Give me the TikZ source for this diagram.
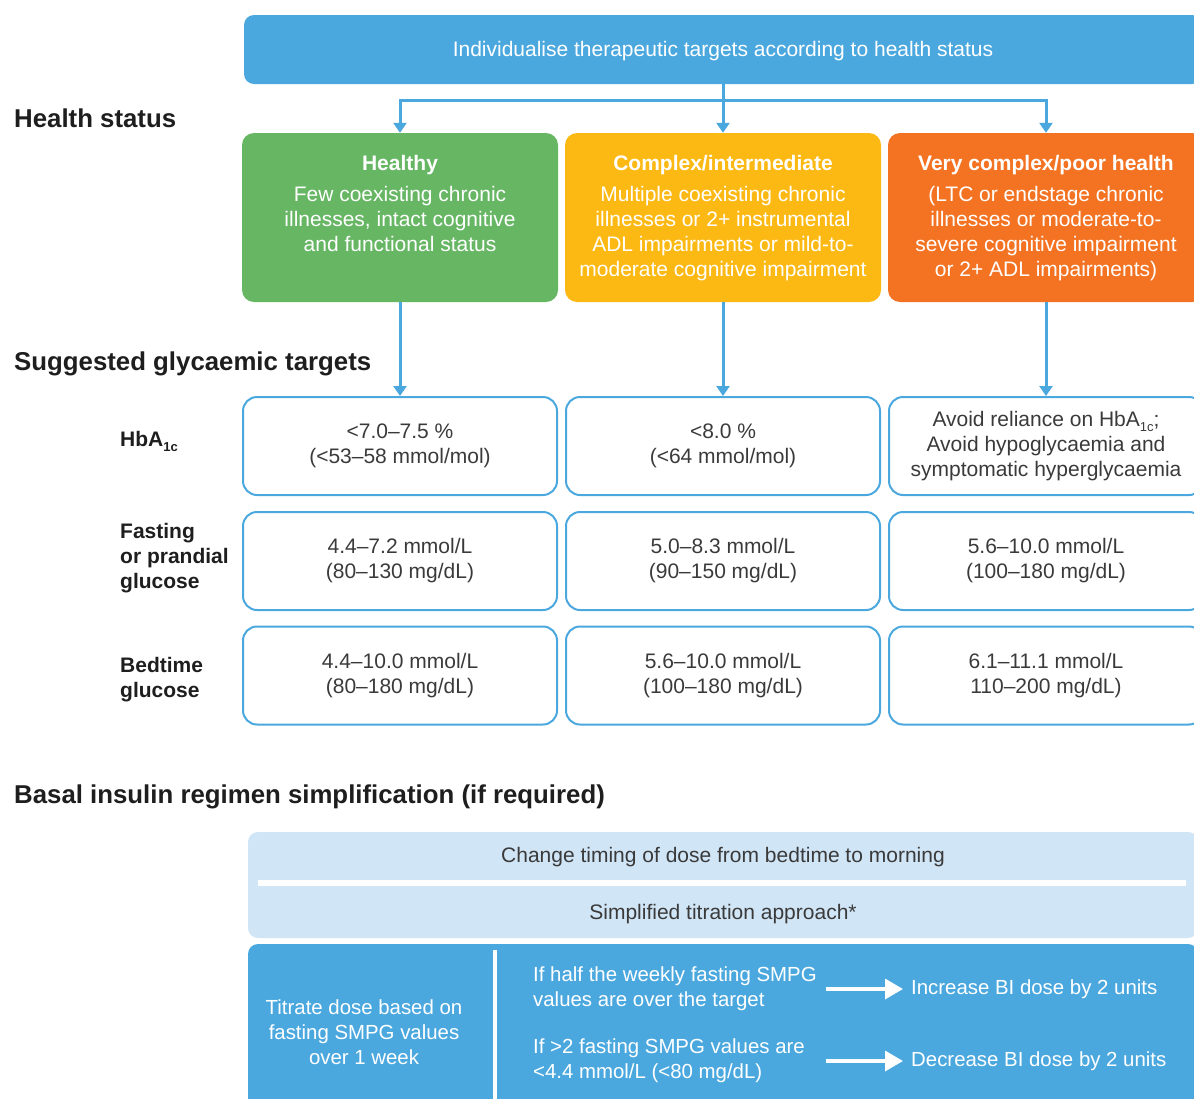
\documentclass[tikz,border=0pt]{standalone}
\usepackage{fontspec}
\setmainfont{Liberation Sans}
\usetikzlibrary{arrows.meta, positioning, calc}
\definecolor{cblue}{HTML}{4BA8DE}
\definecolor{cgreen}{HTML}{66B664}
\definecolor{cyellow}{HTML}{FDB913}
\definecolor{corange}{HTML}{F37322}
\definecolor{clight}{HTML}{D0E5F6}
\definecolor{tgrey}{HTML}{3A3A3A}
\definecolor{hgrey}{HTML}{1E1E1E}

\begin{document}
\begin{tikzpicture}[x=1pt,y=-1pt,
  every node/.style={font=\fontsize{21}{25}\selectfont},
  topbox/.style={fill=cblue,rounded corners=10pt,minimum width=958pt,minimum height=69pt,text=white,text depth=2pt},
  hbox/.style={rounded corners=12pt,minimum width=316pt,minimum height=169pt},
  htext/.style={anchor=north,align=center,text=white,inner sep=0pt},
  tbox/.style={draw=cblue,line width=2pt,rounded corners=14pt,minimum width=314pt,minimum height=98pt,align=center,text=tgrey},
  rowlab/.style={anchor=west,align=left,inner sep=0pt,text=hgrey,font=\bfseries\fontsize{21}{25}\selectfont},
  heading/.style={anchor=west,inner sep=0pt,text=hgrey,font=\bfseries\fontsize{25.8}{30}\selectfont},
  wtext/.style={text=white,inner sep=0pt,font=\fontsize{20.4}{25}\selectfont},
  conn/.style={cblue,line width=3pt},
  arr/.style={conn,-{Triangle[width=13pt,length=10pt]}},
  warr/.style={white,line width=3.5pt,-{Triangle[width=20pt,length=18pt]}}]
  \useasboundingbox (0,0) rectangle (1194,1098);
  \clip (0,0) rectangle (1194,1098);
  % headings
  \node[heading] (hs) at (14,118) {Health status};
  \node[heading] (sg) at (14,364) {Suggested glycaemic targets};
  \node[heading] (bi) at (14,797) {Basal insulin regimen simplification (if required)};
  % top box
  \node[topbox] (top) at (723,49.5) {Individualise therapeutic targets according to health status};
  % health status boxes
  \node[hbox,fill=cgreen] (hb1) at (400,217.5) {};
  \node[hbox,fill=cyellow] (hb2) at (723,217.5) {};
  \node[hbox,fill=corange] (hb3) at (1046,217.5) {};
  \node[htext] (ht1) at (400,155) {\textbf{Healthy}\\[6pt]Few coexisting chronic\\illnesses, intact cognitive\\and functional status};
  \node[htext] (ht2) at (723,155) {\textbf{Complex/intermediate}\\[6pt]Multiple coexisting chronic\\illnesses or 2+ instrumental\\ADL impairments or mild-to-\\moderate cognitive impairment};
  \node[htext] (ht3) at (1046,155) {\textbf{Very complex/poor health}\\[6pt](LTC or endstage chronic\\illnesses or moderate-to-\\severe cognitive impairment\\or 2+ ADL impairments)};
  \draw[conn] (top.south) -- ++(0,16) coordinate (split);
  \draw[arr] (split) -| (hb1.north);
  \draw[arr] (split) -- (hb2.north);
  \draw[arr] (split) -| (hb3.north);
  % targets
  \node[rowlab] (l1) at (120,441) {HbA{\fontsize{13}{13}\selectfont\raisebox{-5pt}{1c}}};
  \node[rowlab] (l2) at (120,558) {Fasting\\or prandial\\glucose};
  \node[rowlab] (l3) at (120,680) {Bedtime\\glucose};
  \node[tbox] (t11) at (400,446) {<7.0–7.5 \%\\(<53–58 mmol/mol)};
  \node[tbox] (t12) at (723,446) {<8.0 \%\\(<64 mmol/mol)};
  \node[tbox] (t13) at (1046,446) {Avoid reliance on HbA{\fontsize{13}{13}\selectfont\raisebox{-5pt}{1c}};\\Avoid hypoglycaemia and\\symptomatic hyperglycaemia};
  \node[tbox] (t21) at (400,561) {4.4–7.2 mmol/L\\(80–130 mg/dL)};
  \node[tbox] (t22) at (723,561) {5.0–8.3 mmol/L\\(90–150 mg/dL)};
  \node[tbox] (t23) at (1046,561) {5.6–10.0 mmol/L\\(100–180 mg/dL)};
  \node[tbox] (t31) at (400,675.5) {4.4–10.0 mmol/L\\(80–180 mg/dL)};
  \node[tbox] (t32) at (723,675.5) {5.6–10.0 mmol/L\\(100–180 mg/dL)};
  \node[tbox] (t33) at (1046,675.5) {6.1–11.1 mmol/L\\110–200 mg/dL)};
  \draw[arr] (hb1.south) -- (t11.north);
  \draw[arr] (hb2.south) -- (t12.north);
  \draw[arr] (hb3.south) -- (t13.north);
  % simplification
  \node[fill=clight,rounded corners=10pt,minimum width=950pt,minimum height=106pt] (simp) at (723,885) {};
  \draw[white,line width=6pt] (258,882.5) -- (1186,882.5);
  \node[text=tgrey] (chg) at (723,857) {Change timing of dose from bedtime to morning};
  \node[text=tgrey] (stp) at (723,914) {Simplified titration approach*};
  \node[fill=cblue,rounded corners=10pt,minimum width=950pt,minimum height=172pt] (titr) at (723,1030) {};
  \draw[white,line width=4pt] (495,950) -- (495,1110);
  \node[wtext,align=center] (tdose) at (364,1032) {Titrate dose based on\\fasting SMPG values\\over 1 week};
  \node[wtext,align=left,anchor=west] (c1) at (533,989) {If half the weekly fasting SMPG\\values are over the target};
  \node[wtext,align=left,anchor=west] (c2) at (533,1061) {If >2 fasting SMPG values are\\<4.4 mmol/L (<80 mg/dL)};
  \node[wtext,anchor=west] (r1) at (911,989) {Increase BI dose by 2 units};
  \node[wtext,anchor=west] (r2) at (911,1061) {Decrease BI dose by 2 units};
  \coordinate (a1) at (826,989);
  \coordinate (a2) at (826,1061);
  \draw[warr] (a1) -- ([xshift=-8pt]r1.west);
  \draw[warr] (a2) -- ([xshift=-8pt]r2.west);
\end{tikzpicture}
\end{document}
